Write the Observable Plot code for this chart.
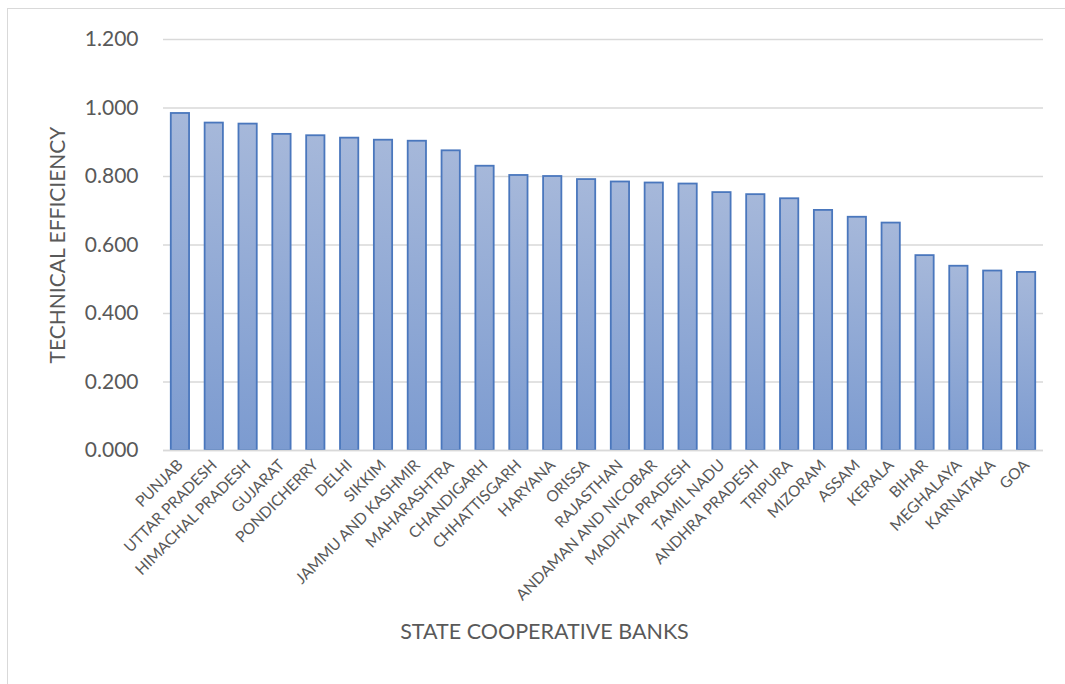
<!DOCTYPE html>
<html>
<head>
<meta charset="utf-8">
<script src="https://cdn.jsdelivr.net/npm/d3@7"></script>
<script src="https://cdn.jsdelivr.net/npm/@observablehq/plot@0.6"></script>
<style>
  html, body { margin: 0; padding: 0; background: #fff; }
  #wrap { position: relative; width: 1065px; height: 684px; overflow: hidden; }
  #frame { position: absolute; left: 7px; top: 8px; width: 1100px; height: 720px; border: 1.5px solid #d9d9d9; box-sizing: border-box; }
  #chart { position: absolute; left: 0; top: 0; }
  text { font-family: Lato, "Open Sans", sans-serif; }
</style>
</head>
<body>
<div id="wrap"><div id="frame"></div><div id="chart"></div></div>
<script>
const states = ["PUNJAB","UTTAR PRADESH","HIMACHAL PRADESH","GUJARAT","PONDICHERRY","DELHI","SIKKIM","JAMMU AND KASHMIR","MAHARASHTRA","CHANDIGARH","CHHATTISGARH","HARYANA","ORISSA","RAJASTHAN","ANDAMAN AND NICOBAR","MADHYA PRADESH","TAMIL NADU","ANDHRA PRADESH","TRIPURA","MIZORAM","ASSAM","KERALA","BIHAR","MEGHALAYA","KARNATAKA","GOA"];
const efficiency = [0.984,0.956,0.953,0.923,0.919,0.912,0.906,0.903,0.875,0.830,0.803,0.800,0.791,0.784,0.781,0.778,0.753,0.747,0.735,0.701,0.681,0.664,0.569,0.538,0.524,0.520];
const yTicks = [0,0.2,0.4,0.6,0.8,1.0,1.2];
const yTitle = "TECHNICAL EFFICIENCY";
const xTitle = "STATE COOPERATIVE BANKS";

const data = states.map((s, i) => ({state: s, value: efficiency[i]}));
const gray = "#595959";

const chart = Plot.plot({
  width: 1065,
  height: 684,
  marginLeft: 163,
  marginRight: 22,
  marginTop: 39,
  marginBottom: 234,
  style: {fontFamily: "Lato, 'Open Sans', sans-serif", color: gray, background: "transparent"},
  x: {domain: states, paddingInner: 0.46, paddingOuter: 0.23, align: 0.5, round: false},
  y: {domain: [0, 1.2]},
  marks: [
    Plot.gridY(yTicks, {stroke: "#d9d9d9", strokeOpacity: 1, strokeWidth: 1.5}),
    Plot.barY(data, {x: "state", y: "value", fill: "url(#barGrad)", stroke: "#4a77bd", strokeWidth: 1.8}),
    Plot.ruleY([0], {stroke: "#d9d9d9", strokeWidth: 1.5}),
    Plot.axisY({ticks: yTicks, tickFormat: d3.format(".3f"), tickSize: 0, tickPadding: 25, fontSize: 21, fill: gray,
      label: yTitle, labelAnchor: "center", labelOffset: 113, labelArrow: "none"}),
    Plot.axisX({tickSize: 0, tickPadding: 12, tickRotate: -45, fontSize: 15.5, fill: gray, label: null}),
    Plot.text([xTitle], {frameAnchor: "bottom", dx: -59, dy: 188, fontSize: 21.5, fill: gray})
  ]
});

const svg = d3.select(chart);
const defs = svg.insert("defs", ":first-child");
const g = defs.append("linearGradient").attr("id", "barGrad").attr("x1", 0).attr("y1", 0).attr("x2", 0).attr("y2", 1);
g.append("stop").attr("offset", "0%").attr("stop-color", "#a6b8da");
g.append("stop").attr("offset", "100%").attr("stop-color", "#7c9bd0");
document.getElementById("chart").appendChild(chart);
</script>
</body>
</html>
